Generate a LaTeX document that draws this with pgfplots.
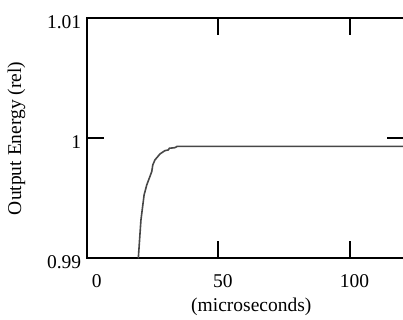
\documentclass[border=0pt]{standalone}
\usepackage{fontspec}
\setmainfont{Liberation Serif}
\usepackage{pgfplots}
\pgfplotsset{compat=1.18}
\begin{document}
\begin{tikzpicture}
\begin{axis}[
  scale only axis,
  width=317.3bp, height=240bp,
  xmin=0, xmax=120.5, ymin=0.99, ymax=1.01,
  xtick={0,50,100}, xticklabels={\hspace{11bp}0,50,100},
  ytick={0.99,1,1.01}, yticklabels={0.99,1,1.01},
  tick align=inside, xtick pos=both, ytick pos=both,
  major tick length=17bp,
  every tick/.style={black, line width=2bp},
  axis line style={line width=2bp},
  font=\fontsize{19.5bp}{22bp}\selectfont,
  tick label style={font=\fontsize{19.5bp}{22bp}\selectfont},
  /pgf/number format/assume math mode=true,
  xticklabel style={xshift=4.5bp, yshift=-13bp},
  yticklabel style={yshift=-4bp, xshift=-2bp},
  xlabel={(microseconds)},
  ylabel={Output Energy (rel)},
  xlabel style={yshift=-3bp, xshift=6bp},
  ylabel style={yshift=15bp},
  clip=true,
]
\addplot[color=black!72, line width=1.6bp] coordinates {
(19.6,0.9900) (20.6,0.99319) (21.8,0.99528) (22.8,0.99611) (24.0,0.99681)
(24.7,0.99722) (25.1,0.99778) (25.9,0.99819) (27.8,0.99869) (29.7,0.99897)
(31.0,0.99903) (31.4,0.99917) (33.5,0.99922) (34.4,0.99933) (121,0.99933)
};
\end{axis}
\pgfresetboundingbox
\path ([xshift=-86.7bp,yshift=-61.7bp]current axis.south west) rectangle ([xshift=316.3bp,yshift=258.3bp]current axis.south west);
\end{tikzpicture}
\end{document}
